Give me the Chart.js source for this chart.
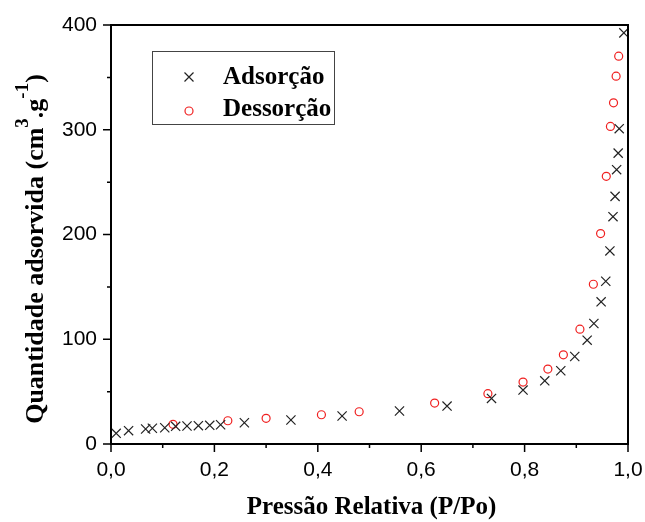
<!DOCTYPE html>
<html>
<head>
<meta charset="utf-8">
<script src="https://cdn.jsdelivr.net/npm/chart.js@4.4.1/dist/chart.umd.min.js"></script>
<style>
    body { margin: 0; background: #fff; }
    #wrap { width: 645px; height: 522px; }
</style>
</head>
<body>
<div id="wrap"><canvas id="canvas"></canvas></div>
<script>
// isotherm readings (P/Po, cm3/g)
var adsP = [0.010, 0.034, 0.067, 0.080, 0.104, 0.125, 0.147, 0.169, 0.191, 0.212, 0.258, 0.348, 0.447, 0.558, 0.650,
    0.736, 0.797, 0.839, 0.870, 0.897, 0.921, 0.934, 0.948, 0.957, 0.965, 0.971, 0.975, 0.978, 0.981, 0.983, 0.992];
var adsQ = [10.2, 12.7, 14.3, 15.0, 15.5, 16.9, 17.2, 17.5, 17.8, 18.4, 20.3, 22.9, 26.7, 31.5, 36.2,
    43.5, 51.5, 60.3, 69.9, 83.5, 99.1, 115.0, 135.7, 155.4, 184.3, 217.0, 236.4, 261.9, 277.7, 301.0, 392.5];
var desP = [0.120, 0.226, 0.300, 0.407, 0.480, 0.626, 0.729, 0.797, 0.845, 0.875, 0.907, 0.933, 0.947, 0.958,
    0.966, 0.972, 0.977, 0.982];
var desQ = [18.8, 22.2, 24.5, 27.9, 30.8, 39.1, 48.0, 59.1, 71.5, 85.1, 109.6, 152.5, 200.9, 255.5,
    303.2, 325.7, 351.1, 370.2];
var seriesNames = ['Adsorção', 'Dessorção'];
var xTitle = 'Pressão Relativa (P/Po)';
var yTitleParts = [['Quantidade adsorvida (cm', 0], ['3', 1], ['.g', 0], ['-1', 1], [')', 0]];

function toPoints(xs, ys) {
    return xs.map(function (x, i) { return {x: x, y: ys[i]}; });
}

function drawCross(ctx, x, y, h) {
    ctx.beginPath();
    ctx.moveTo(x - h, y - h); ctx.lineTo(x + h, y + h);
    ctx.moveTo(x - h, y + h); ctx.lineTo(x + h, y - h);
    ctx.stroke();
}

var decor = {
    id: 'decor',
    beforeDraw: function (chart) {
        var ctx = chart.ctx;
        ctx.save();
        ctx.fillStyle = '#fff';
        ctx.fillRect(0, 0, chart.width, chart.height);
        ctx.restore();
    },
    afterDraw: function (chart) {
        var ctx = chart.ctx, a = chart.chartArea;
        var xs = chart.scales.x, ys = chart.scales.y;
        ctx.save();
        // frame
        ctx.strokeStyle = '#000';
        ctx.lineWidth = 2;
        ctx.strokeRect(a.left, a.top, a.right - a.left, a.bottom - a.top);
        // ticks, major + minor
        ctx.lineWidth = 1.5;
        ctx.beginPath();
        for (var i = 0; i <= 10; i++) {
            var px = xs.getPixelForValue(i / 10);
            ctx.moveTo(px, a.bottom);
            ctx.lineTo(px, a.bottom + (i % 2 === 0 ? 8 : 4));
        }
        for (var j = 0; j <= 8; j++) {
            var py = ys.getPixelForValue(j * 50);
            ctx.moveTo(a.left, py);
            ctx.lineTo(a.left - (j % 2 === 0 ? 8 : 4), py);
        }
        ctx.stroke();

        // x title
        ctx.fillStyle = '#000';
        ctx.font = 'bold 25px "Liberation Serif"';
        ctx.textAlign = 'center';
        ctx.textBaseline = 'alphabetic';
        ctx.fillText(xTitle, (a.left + a.right) / 2 + 2, 514);

        // y title with superscripts
        var mainFont = 'bold 26px "Liberation Serif"', supFont = 'bold 19px "Liberation Serif"';
        var total = 0;
        yTitleParts.forEach(function (p) {
            ctx.font = p[1] ? supFont : mainFont;
            total += ctx.measureText(p[0]).width;
        });
        ctx.translate(43, 249);
        ctx.rotate(-Math.PI / 2);
        ctx.textAlign = 'left';
        var cx = -total / 2;
        yTitleParts.forEach(function (p) {
            ctx.font = p[1] ? supFont : mainFont;
            ctx.fillText(p[0], cx, p[1] ? -15 : 0);
            cx += ctx.measureText(p[0]).width;
        });
        ctx.setTransform(1, 0, 0, 1, 0, 0);

        // legend
        ctx.strokeStyle = '#444';
        ctx.lineWidth = 1;
        ctx.strokeRect(152.5, 51.5, 182, 73);
        ctx.strokeStyle = '#222';
        ctx.lineWidth = 1.2;
        drawCross(ctx, 189, 77, 4.5);
        ctx.strokeStyle = '#f02020';
        ctx.beginPath();
        ctx.arc(189, 111, 4, 0, Math.PI * 2);
        ctx.stroke();
        ctx.fillStyle = '#000';
        ctx.font = 'bold 25px "Liberation Serif"';
        ctx.textAlign = 'left';
        ctx.textBaseline = 'middle';
        ctx.fillText(seriesNames[0], 223, 78);
        ctx.fillText(seriesNames[1], 223, 110);
        ctx.restore();
    }
};

var tickFont = {family: '"Liberation Sans", Arial, sans-serif', size: 21};

new Chart(document.getElementById('canvas'), {
    type: 'scatter',
    data: {
        datasets: [{
            label: seriesNames[0],
            data: toPoints(adsP, adsQ),
            pointStyle: 'crossRot',
            pointRadius: 6.5,
            pointHoverRadius: 6.5,
            borderColor: '#222',
            backgroundColor: '#222',
            pointBorderWidth: 1.2,
        }, {
            label: seriesNames[1],
            data: toPoints(desP, desQ),
            pointStyle: 'circle',
            pointRadius: 4,
            pointHoverRadius: 4,
            borderColor: '#f02020',
            backgroundColor: 'rgba(0,0,0,0)',
            pointBorderWidth: 1.2,
        }],
    },
    options: {
        responsive: true,
        maintainAspectRatio: false,
        animation: false,
        layout: {padding: {top: 25, right: 17, left: 0, bottom: 0}},
        plugins: {legend: {display: false}, tooltip: {enabled: false}},
        scales: {
            x: {
                type: 'linear', min: 0, max: 1,
                grid: {display: false, drawTicks: false},
                border: {display: false},
                ticks: {
                    stepSize: 0.2, padding: 14, color: '#000', font: tickFont, maxRotation: 0,
                    callback: function (v) { return v.toFixed(1).replace('.', ','); },
                },
                afterFit: function (s) { s.height = 78; s.paddingLeft = 0; s.paddingRight = 0; },
            },
            y: {
                min: 0, max: 400,
                grid: {display: false, drawTicks: false},
                border: {display: false},
                ticks: {stepSize: 100, padding: 14, color: '#000', font: tickFont},
                afterFit: function (s) { s.width = 111; s.paddingTop = 0; s.paddingBottom = 0; },
            },
        },
    },
    plugins: [decor],
});
</script>
</body>
</html>
